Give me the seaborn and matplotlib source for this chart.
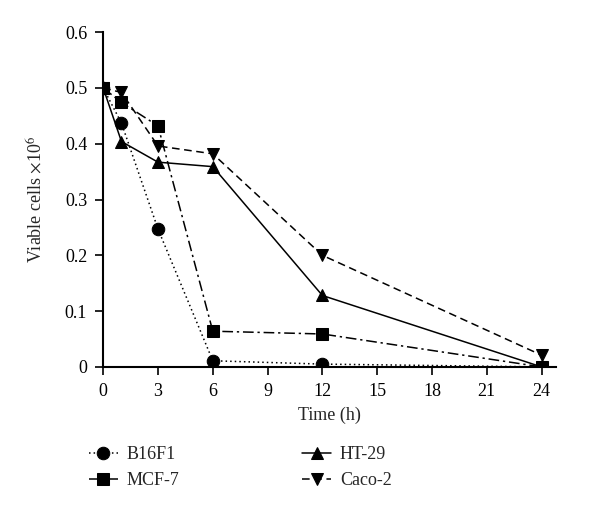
import matplotlib
matplotlib.use('Agg')
import matplotlib.pyplot as plt
import pandas as pd
import seaborn as sns

time_h = [0, 1, 3, 6, 12, 24]
b16f1 = [0.5, 0.437, 0.247, 0.011, 0.005, 0.0]
mcf7 = [0.5, 0.474, 0.432, 0.064, 0.059, 0.0]
ht29 = [0.5, 0.404, 0.367, 0.359, 0.128, 0.0]
caco2 = [0.5, 0.492, 0.396, 0.382, 0.200, 0.021]

series = {'B16F1': b16f1, 'MCF-7': mcf7, 'HT-29': ht29, 'Caco-2': caco2}
styles = {
    'B16F1': dict(ls=(0, (1, 2)), marker='o'),
    'MCF-7': dict(ls=(0, (7, 2.5, 1.5, 2.5)), marker='s'),
    'HT-29': dict(ls='-', marker='^'),
    'Caco-2': dict(ls=(0, (5, 3)), marker='v'),
}

df = pd.DataFrame([(t, v, name) for name, vals in series.items()
                   for t, v in zip(time_h, vals)],
                  columns=['Time', 'Viable', 'Line'])

sns.set_style('ticks')
plt.rcParams['font.family'] = ['Liberation Serif', 'DejaVu Serif']
plt.rcParams['mathtext.fontset'] = 'stix'

fig = plt.figure(figsize=(6, 5.11), dpi=100)
ax = fig.add_axes([0.172, 0.282, 0.755, 0.655])

for name in series:
    sub = df[df['Line'] == name]
    sns.lineplot(data=sub, x='Time', y='Viable', ax=ax, color='black',
                 linestyle=styles[name]['ls'], marker=styles[name]['marker'],
                 markersize=9, markeredgecolor='black', linewidth=1.1,
                 label=name)

ax.set_xlim(0, 24.8)
ax.set_ylim(0, 0.6)
ax.set_xticks(range(0, 25, 3))
ax.set_yticks([0, 0.1, 0.2, 0.3, 0.4, 0.5, 0.6])
ax.set_yticklabels(['0', '0.1', '0.2', '0.3', '0.4', '0.5', '0.6'])
ax.set_xlabel('Time (h)', fontsize=13, labelpad=5)
ax.set_ylabel('Viable cells $\\times$10$^6$', fontsize=13, labelpad=14)
ax.tick_params(labelsize=13, direction='out', length=5.5, width=1.2,
               colors='black', pad=6)
for s in ['left', 'bottom']:
    ax.spines[s].set_linewidth(1.5)
    ax.spines[s].set_color('black')
sns.despine(ax=ax)

ax.legend(loc='upper left', bbox_to_anchor=(-0.068, -0.189), ncol=2,
          frameon=False, fontsize=13, handlelength=1.6, handletextpad=0.5,
          columnspacing=6.8, labelspacing=0.5)

plt.savefig('out.png', dpi=100)
